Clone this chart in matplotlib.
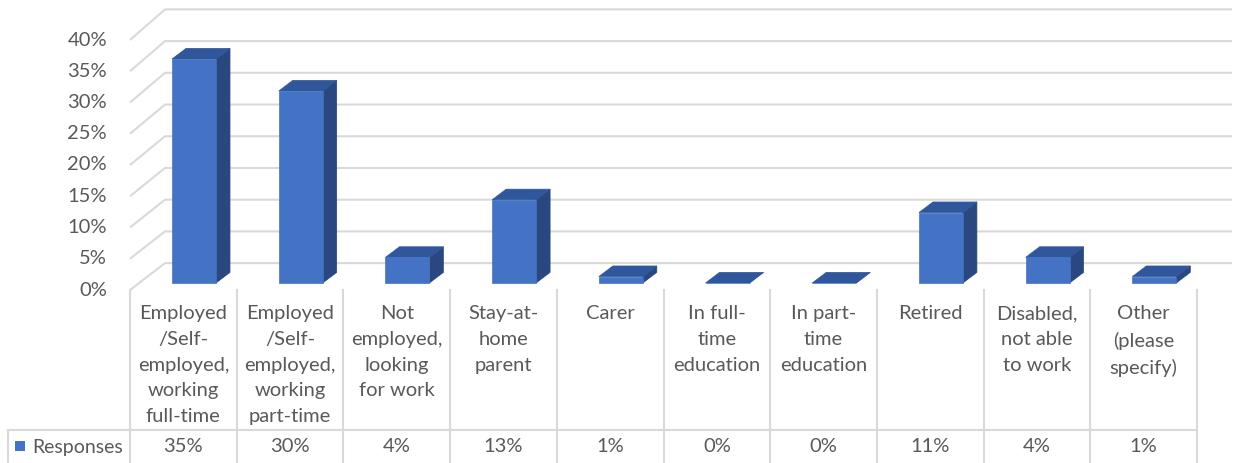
import matplotlib.pyplot as plt
from matplotlib.patches import Polygon, Rectangle

# ---------- DATA ----------
categories = [
    "Employed\n/Self-\nemployed,\nworking\nfull-time",
    "Employed\n/Self-\nemployed,\nworking\npart-time",
    "Not\nemployed,\nlooking\nfor work",
    "Stay-at-\nhome\nparent",
    "Carer",
    "In full-\ntime\neducation",
    "In part-\ntime\neducation",
    "Retired",
    "Disabled,\nnot able\nto work",
    "Other\n(please\nspecify)",
]
responses = [35, 30, 4, 13, 1, 0, 0, 11, 4, 1]
value_labels = ["35%", "30%", "4%", "13%", "1%", "0%", "0%", "11%", "4%", "1%"]
y_ticks = [0, 5, 10, 15, 20, 25, 30, 35, 40]
series_name = "Responses"

# ---------- STYLE ----------
FRONT = "#4472C4"
TOP = "#30569C"
SIDE = "#2A4780"
GRID = "#D9D9D9"
TEXT = "#595959"
FONT = "Lato"
FS = 14.5

W, H = 1234, 463
COL_W = 106.7      # pixels per category
X0, Y0 = 130, 290  # pixel position of the front-left floor corner
PX_PCT = 6.25      # pixels per percent on the front axis

# oblique depth geometry (data units)
WALL_DX = 35 / COL_W
WALL_DY0 = 4.3
BACK_SCALE = 1.015
BAR_LEFT, BAR_W = 0.394, 0.412
BAR_BASE = 1.12
BAR_SCALE = 1.024
BAR_DX, BAR_DY = 14 / COL_W, 1.7


def py(p):
    """pixel row -> y data value"""
    return (Y0 - p) / PX_PCT


def px(p):
    """pixel column -> x data value"""
    return (p - X0) / COL_W


fig = plt.figure(figsize=(W / 100, H / 100), dpi=100)
ax = fig.add_axes([0, 0, 1, 1])
ax.set_xlim(px(0), px(W))
ax.set_ylim(py(H), py(0))
ax.axis("off")

n = len(categories)

# side wall + back wall gridlines
for t in y_ticks:
    back = WALL_DY0 + t * BACK_SCALE
    ax.plot([0, WALL_DX, n + WALL_DX], [t, back, back], color=GRID, lw=1.5,
            solid_capstyle="butt", zorder=1)
    ax.text(px(107), t, f"{t}%", ha="right", va="center", fontsize=FS,
            color=TEXT, family=FONT)

# 3D columns
for i, v in enumerate(responses):
    x1 = i + BAR_LEFT
    x2 = x1 + BAR_W
    yb = BAR_BASE
    yt = BAR_BASE + v * BAR_SCALE
    front = [(x1, yb), (x2, yb), (x2, yt), (x1, yt)]
    side = [(x2, yb), (x2 + BAR_DX, yb + BAR_DY), (x2 + BAR_DX, yt + BAR_DY), (x2, yt)]
    top = [(x1, yt), (x2, yt), (x2 + BAR_DX, yt + BAR_DY), (x1 + BAR_DX, yt + BAR_DY)]
    ax.add_patch(Polygon(side, closed=True, fc=SIDE, ec=SIDE, lw=0.5, zorder=3))
    ax.add_patch(Polygon(top, closed=True, fc=TOP, ec=TOP, lw=0.5, zorder=3))
    ax.add_patch(Polygon(front, closed=True, fc=FRONT, ec=FRONT, lw=0.5, zorder=4))

# data table
row_top = py(430)
for i in range(n + 1):
    ax.plot([i, i], [0, py(H)], color=GRID, lw=1.5, zorder=1)
ax.plot([px(8), n], [row_top, row_top], color=GRID, lw=1.5, zorder=1)
ax.plot([px(8), px(8)], [row_top, py(H)], color=GRID, lw=1.5, zorder=1)

for i, (cat, lab) in enumerate(zip(categories, value_labels)):
    ax.text(i + 0.5, py(305), cat, ha="center", va="top", fontsize=FS,
            color=TEXT, family=FONT, linespacing=1.63)
    ax.text(i + 0.5, py(447), lab, ha="center", va="center", fontsize=FS,
            color=TEXT, family=FONT)

ax.add_patch(Rectangle((px(15), py(451)), px(25) - px(15), py(441) - py(451),
                       fc=FRONT, ec="none", zorder=3))
ax.text(px(32), py(447), series_name, ha="left", va="center", fontsize=14,
        color=TEXT, family=FONT)

fig.savefig("out.png", dpi=100, facecolor="white")
